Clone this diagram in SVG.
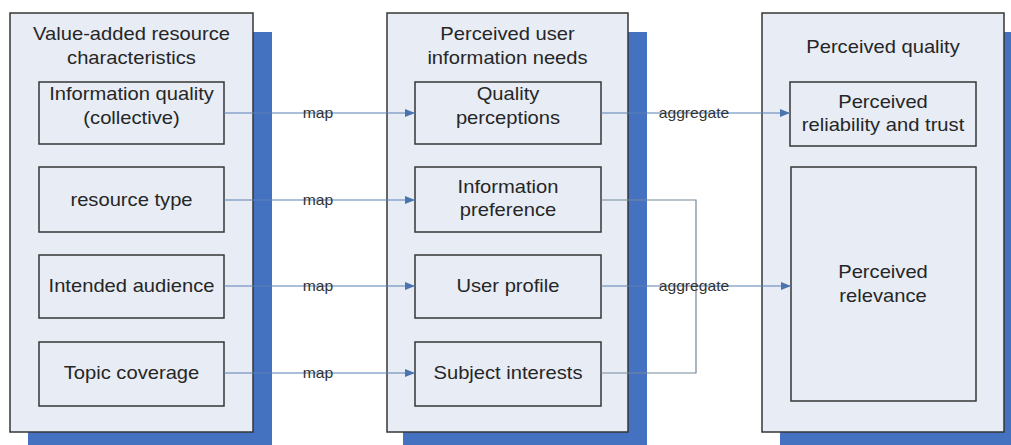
<svg xmlns="http://www.w3.org/2000/svg" width="1011" height="445" viewBox="0 0 1011 445">
<style>
.shadow{fill:#4472c0;stroke:none}
.cont{fill:#e7ecf5;stroke:#363636;stroke-width:1.5}
.box{fill:#e7ecf5;stroke:#363636;stroke-width:1.5}
text{font-family:"Liberation Sans",Arial,sans-serif;fill:#262626;text-anchor:middle}
.t{font-size:18px}
.lbl{font-size:14px;fill:#333}
.map{stroke:#5a80b4;stroke-width:1.2;fill:none}
.agg{stroke:#75879a;stroke-width:1.2;fill:none}
</style>
<defs>
<marker id="ah" viewBox="0 0 10 8" refX="10" refY="4" markerWidth="10" markerHeight="8" markerUnits="userSpaceOnUse" orient="auto">
<path d="M0,0 L10,4 L0,8 z" fill="#4a73b0"/>
</marker>
</defs>
<rect width="1011" height="445" fill="#ffffff"/>

<g id="col-resource">
<rect class="shadow" x="28" y="32" width="244" height="420"/>
<rect class="cont" x="10" y="13" width="243" height="419"/>
<g transform="translate(131.5 0) scale(1.12 1)"><text class="t" x="0" y="40">Value-added resource</text><text class="t" x="0" y="64">characteristics</text></g>
</g>
<g id="col-needs">
<rect class="shadow" x="403" y="32" width="244" height="420"/>
<rect class="cont" x="387" y="13" width="241" height="419"/>
<g transform="translate(507.5 0) scale(1.12 1)"><text class="t" x="0" y="40">Perceived user</text><text class="t" x="0" y="64">information needs</text></g>
</g>
<g id="col-quality">
<rect class="shadow" x="780" y="32" width="244" height="420"/>
<rect class="cont" x="762" y="13" width="242" height="419"/>
<g transform="translate(883 0) scale(1.12 1)"><text class="t" x="0" y="53">Perceived quality</text></g>
</g>

<g id="n-info-quality">
<rect class="box" x="39" y="82" width="185" height="62"/>
<g transform="translate(131.5 0) scale(1.12 1)"><text class="t" x="0" y="100">Information quality</text><text class="t" x="0" y="124">(collective)</text></g>
</g>
<g id="n-resource-type">
<rect class="box" x="39" y="167" width="185" height="65"/>
<g transform="translate(131.5 0) scale(1.12 1)"><text class="t" x="0" y="206">resource type</text></g>
</g>
<g id="n-audience">
<rect class="box" x="39" y="255" width="185" height="63"/>
<g transform="translate(131.5 0) scale(1.12 1)"><text class="t" x="0" y="292">Intended audience</text></g>
</g>
<g id="n-topic">
<rect class="box" x="39" y="342" width="185" height="64"/>
<g transform="translate(131.5 0) scale(1.12 1)"><text class="t" x="0" y="379">Topic coverage</text></g>
</g>

<g id="n-quality-perceptions">
<rect class="box" x="415" y="82" width="186" height="62"/>
<g transform="translate(508 0) scale(1.12 1)"><text class="t" x="0" y="100">Quality</text><text class="t" x="0" y="124">perceptions</text></g>
</g>
<g id="n-info-preference">
<rect class="box" x="415" y="167" width="186" height="65"/>
<g transform="translate(508 0) scale(1.12 1)"><text class="t" x="0" y="193">Information</text><text class="t" x="0" y="216">preference</text></g>
</g>
<g id="n-user-profile">
<rect class="box" x="415" y="255" width="186" height="63"/>
<g transform="translate(508 0) scale(1.12 1)"><text class="t" x="0" y="292">User profile</text></g>
</g>
<g id="n-subject">
<rect class="box" x="415" y="342" width="186" height="64"/>
<g transform="translate(508 0) scale(1.12 1)"><text class="t" x="0" y="379">Subject interests</text></g>
</g>

<g id="n-reliability">
<rect class="box" x="790" y="82" width="186" height="64"/>
<g transform="translate(883 0) scale(1.12 1)"><text class="t" x="0" y="108">Perceived</text><text class="t" x="0" y="131">reliability and trust</text></g>
</g>
<g id="n-relevance">
<rect class="box" x="791" y="167" width="185" height="234"/>
<g transform="translate(883 0) scale(1.12 1)"><text class="t" x="0" y="278">Perceived</text><text class="t" x="0" y="302">relevance</text></g>
</g>

<g id="connectors">
<line class="map" x1="224" y1="113" x2="415" y2="113" marker-end="url(#ah)"/>
<line class="map" x1="224" y1="200" x2="415" y2="200" marker-end="url(#ah)"/>
<line class="map" x1="224" y1="286" x2="415" y2="286" marker-end="url(#ah)"/>
<line class="map" x1="224" y1="373" x2="415" y2="373" marker-end="url(#ah)"/>
<line class="map" x1="601" y1="113" x2="790" y2="113" marker-end="url(#ah)"/>
<polyline class="agg" points="601,200 696,200 696,373 601,373"/>
<line class="map" x1="601" y1="286" x2="791" y2="286" marker-end="url(#ah)"/>
<g transform="translate(318 0) scale(1.12 1)">
<text class="lbl" x="0" y="118">map</text>
<text class="lbl" x="0" y="205">map</text>
<text class="lbl" x="0" y="291">map</text>
<text class="lbl" x="0" y="378">map</text>
</g>
<g transform="translate(694 0) scale(1.12 1)">
<text class="lbl" x="0" y="118">aggregate</text>
<text class="lbl" x="0" y="291">aggregate</text>
</g>
</g>
</svg>
